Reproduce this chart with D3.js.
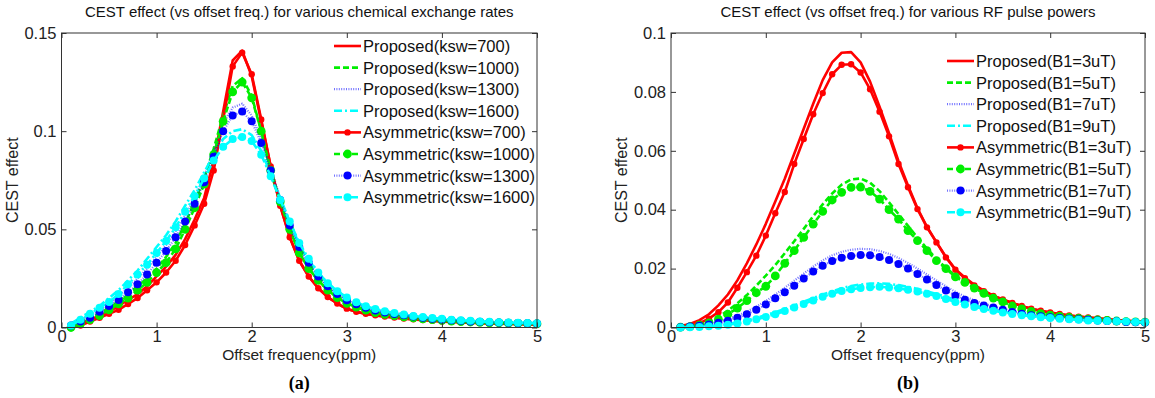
<!DOCTYPE html>
<html>
<head>
<meta charset="utf-8">
<script src="https://cdn.jsdelivr.net/npm/d3@7"></script>
<style>
  body { margin: 0; background: #fff; }
  svg { display: block; font-family: "Liberation Sans", Arial, sans-serif; }
  .axis text { font-size: 16.5px; fill: #222; }
  .axis line { stroke: #333; }
</style>
</head>
<body>
<svg id="chart" width="1155" height="398"></svg>
<script>
// offset frequency (ppm) sampled by both simulations
const offsets = [0.1,0.2,0.3,0.4,0.5,0.6,0.7,0.8,0.9,1.0,1.1,1.2,1.3,1.4,1.5,1.6,1.7,1.8,1.9,2.0,
                 2.1,2.2,2.3,2.4,2.5,2.6,2.7,2.8,2.9,3.0,3.1,3.2,3.3,3.4,3.5,3.6,3.7,3.8,3.9,4.0,
                 4.1,4.2,4.3,4.4,4.5,4.6,4.7,4.8,4.9,5.0];
const xTicks = [0, 1, 2, 3, 4, 5];

// (a) chemical exchange rates
const kswLabels = ["700", "1000", "1300", "1600"];
const kswTicks = [0, 0.05, 0.1, 0.15];
const kswP700  = [0.001,0.002,0.004,0.006,0.008,0.011,0.014,0.017,0.021,0.026,0.031,0.037,0.045,0.055,0.066,0.085,0.110,0.136,0.141,0.128,
                  0.105,0.082,0.062,0.046,0.034,0.026,0.020,0.0155,0.0122,0.0095,0.0080,0.0069,0.0061,0.0055,0.0050,0.0045,0.0041,0.0037,0.0034,0.0030,
                  0.0028,0.0026,0.0024,0.0022,0.0020,0.0019,0.0018,0.0017,0.0016,0.0015];
const kswP1000 = [0.001,0.003,0.005,0.007,0.010,0.013,0.017,0.021,0.025,0.030,0.036,0.043,0.053,0.064,0.076,0.091,0.108,0.123,0.127,0.118,
                  0.100,0.079,0.064,0.050,0.038,0.030,0.024,0.0190,0.0152,0.0122,0.0103,0.0087,0.0075,0.0066,0.0059,0.0053,0.0048,0.0043,0.0039,0.0035,
                  0.0032,0.0029,0.0027,0.0025,0.0023,0.0022,0.0021,0.0020,0.0019,0.0018];
const kswP1300 = [0.002,0.004,0.006,0.009,0.012,0.016,0.020,0.025,0.030,0.036,0.042,0.049,0.057,0.066,0.077,0.090,0.104,0.112,0.114,0.108,
                  0.096,0.081,0.066,0.052,0.040,0.032,0.026,0.0210,0.0170,0.0138,0.0117,0.0099,0.0086,0.0076,0.0068,0.0061,0.0055,0.0049,0.0044,0.0040,
                  0.0036,0.0033,0.0030,0.0028,0.0026,0.0024,0.0023,0.0022,0.0021,0.0020];
const kswP1600 = [0.002,0.005,0.008,0.011,0.015,0.019,0.024,0.029,0.035,0.041,0.047,0.054,0.062,0.070,0.079,0.088,0.096,0.100,0.101,0.098,
                  0.090,0.078,0.066,0.054,0.042,0.034,0.028,0.0225,0.0185,0.0153,0.0128,0.0108,0.0093,0.0082,0.0073,0.0065,0.0058,0.0052,0.0047,0.0043,
                  0.0039,0.0036,0.0033,0.0031,0.0029,0.0027,0.0025,0.0024,0.0023,0.0022];
const kswA700  = [0.000,0.001,0.003,0.005,0.007,0.009,0.012,0.015,0.019,0.023,0.028,0.034,0.042,0.052,0.063,0.080,0.106,0.133,0.140,0.129,
                  0.106,0.082,0.062,0.046,0.034,0.026,0.020,0.0155,0.0122,0.0096,0.0080,0.0070,0.0062,0.0056,0.0051,0.0046,0.0042,0.0038,0.0035,0.0031,
                  0.0029,0.0027,0.0025,0.0023,0.0021,0.0020,0.0019,0.0018,0.0017,0.0016];
const kswA1000 = [0.000,0.002,0.004,0.006,0.009,0.012,0.015,0.019,0.023,0.028,0.033,0.040,0.050,0.061,0.073,0.088,0.105,0.120,0.125,0.117,
                  0.100,0.080,0.064,0.050,0.038,0.030,0.024,0.0190,0.0152,0.0123,0.0104,0.0088,0.0076,0.0067,0.0060,0.0054,0.0049,0.0044,0.0040,0.0036,
                  0.0033,0.0030,0.0028,0.0026,0.0024,0.0023,0.0022,0.0021,0.0020,0.0019];
const kswA1300 = [0.001,0.003,0.005,0.008,0.011,0.014,0.018,0.022,0.027,0.033,0.039,0.046,0.054,0.063,0.074,0.087,0.100,0.108,0.110,0.105,
                  0.094,0.080,0.065,0.052,0.041,0.033,0.026,0.0210,0.0170,0.0139,0.0118,0.0100,0.0087,0.0077,0.0069,0.0062,0.0056,0.0050,0.0045,0.0041,
                  0.0037,0.0034,0.0031,0.0029,0.0027,0.0025,0.0024,0.0023,0.0022,0.0021];
const kswA1600 = [0.001,0.004,0.007,0.010,0.013,0.017,0.022,0.027,0.032,0.038,0.044,0.051,0.059,0.067,0.076,0.085,0.092,0.096,0.097,0.095,
                  0.088,0.077,0.065,0.054,0.043,0.035,0.028,0.0225,0.0185,0.0153,0.0128,0.0108,0.0094,0.0083,0.0074,0.0066,0.0059,0.0053,0.0048,0.0044,
                  0.0040,0.0037,0.0034,0.0031,0.0029,0.0027,0.0026,0.0024,0.0023,0.0022];

// (b) RF pulse powers
const b1Labels = ["3uT", "5uT", "7uT", "9uT"];
const b1Ticks = [0, 0.02, 0.04, 0.06, 0.08, 0.1];
const b1P3 = [0.0005,0.0012,0.0025,0.0045,0.0075,0.0112,0.0160,0.0218,0.0282,0.0352,0.0428,0.0505,0.0590,0.0675,0.0760,0.0840,0.0900,0.0933,0.0935,0.0900,
              0.0835,0.0750,0.0660,0.0565,0.0482,0.0405,0.0342,0.0290,0.0240,0.0198,0.0170,0.0145,0.0125,0.0108,0.0095,0.0083,0.0073,0.0064,0.0057,0.0051,
              0.0046,0.0041,0.0037,0.0034,0.0031,0.0028,0.0025,0.0023,0.0021,0.0019];
const b1P5 = [0.0002,0.0005,0.0011,0.0022,0.0037,0.0057,0.0082,0.0110,0.0142,0.0176,0.0212,0.0252,0.0293,0.0335,0.0378,0.0418,0.0455,0.0485,0.0503,0.0506,
              0.0492,0.0463,0.0425,0.0385,0.0345,0.0305,0.0268,0.0233,0.0203,0.0176,0.0154,0.0135,0.0117,0.0101,0.0088,0.0075,0.0065,0.0056,0.0049,0.0043,
              0.0039,0.0035,0.0031,0.0028,0.0026,0.0024,0.0022,0.0020,0.0019,0.0018];
const b1P7 = [0.0001,0.0004,0.0008,0.0013,0.0020,0.0029,0.0040,0.0054,0.0071,0.0090,0.0112,0.0135,0.0159,0.0183,0.0207,0.0228,0.0245,0.0257,0.0264,0.0267,
              0.0266,0.0260,0.0250,0.0236,0.0219,0.0200,0.0180,0.0160,0.0140,0.0121,0.0105,0.0092,0.0081,0.0072,0.0064,0.0056,0.0050,0.0045,0.0040,0.0036,
              0.0033,0.0031,0.0028,0.0026,0.0024,0.0022,0.0021,0.0019,0.0018,0.0017];
const b1P9 = [0.0000,0.0001,0.0003,0.0005,0.0008,0.0012,0.0018,0.0025,0.0033,0.0042,0.0052,0.0063,0.0075,0.0088,0.0100,0.0112,0.0123,0.0133,0.0141,0.0146,
              0.0149,0.0150,0.0148,0.0144,0.0138,0.0131,0.0123,0.0114,0.0104,0.0094,0.0084,0.0075,0.0067,0.0060,0.0054,0.0048,0.0044,0.0040,0.0036,0.0033,
              0.0031,0.0029,0.0027,0.0025,0.0023,0.0022,0.0021,0.0020,0.0019,0.0018];
const b1A3 = [0.0002,0.0006,0.0015,0.0030,0.0052,0.0085,0.0135,0.0188,0.0244,0.0312,0.0388,0.0460,0.0555,0.0640,0.0724,0.0796,0.0860,0.0892,0.0894,0.0866,
              0.0809,0.0733,0.0649,0.0555,0.0476,0.0402,0.0340,0.0289,0.0238,0.0196,0.0167,0.0143,0.0123,0.0107,0.0095,0.0083,0.0073,0.0064,0.0057,0.0051,
              0.0046,0.0041,0.0037,0.0034,0.0031,0.0028,0.0025,0.0023,0.0021,0.0019];
const b1A5 = [0.0001,0.0003,0.0008,0.0016,0.0028,0.0045,0.0066,0.0091,0.0118,0.0140,0.0175,0.0218,0.0261,0.0306,0.0351,0.0394,0.0433,0.0459,0.0476,0.0477,
              0.0462,0.0436,0.0400,0.0368,0.0329,0.0295,0.0261,0.0227,0.0200,0.0172,0.0153,0.0134,0.0116,0.0100,0.0087,0.0073,0.0063,0.0055,0.0047,0.0042,
              0.0038,0.0034,0.0031,0.0028,0.0026,0.0024,0.0022,0.0020,0.0019,0.0018];
const b1A7 = [0.0001,0.0003,0.0006,0.0010,0.0016,0.0023,0.0033,0.0045,0.0060,0.0078,0.0099,0.0120,0.0142,0.0166,0.0190,0.0210,0.0226,0.0237,0.0243,0.0246,
              0.0245,0.0239,0.0229,0.0216,0.0200,0.0182,0.0163,0.0144,0.0126,0.0108,0.0094,0.0083,0.0075,0.0068,0.0060,0.0053,0.0047,0.0042,0.0038,0.0035,
              0.0032,0.0030,0.0028,0.0026,0.0024,0.0022,0.0021,0.0019,0.0018,0.0017];
const b1A9 = [0.0000,0.0001,0.0002,0.0004,0.0006,0.0009,0.0014,0.0020,0.0028,0.0036,0.0045,0.0056,0.0068,0.0080,0.0092,0.0104,0.0115,0.0124,0.0130,0.0134,
              0.0137,0.0138,0.0136,0.0133,0.0128,0.0122,0.0115,0.0107,0.0097,0.0087,0.0078,0.0070,0.0063,0.0057,0.0051,0.0046,0.0042,0.0038,0.0035,0.0032,
              0.0030,0.0028,0.0026,0.0024,0.0023,0.0022,0.0021,0.0020,0.0019,0.0018];

// matlab-ish line styles, one per parameter level
const styles = [
    { color: "#ff0000", width: 2.6, dash: null,        r: 3.2 },
    { color: "#00ee00", width: 2.6, dash: "6,3",       r: 4.4 },
    { color: "#0000ff", width: 2.2, dash: "1,1.4",     r: 4.0, lineOpacity: 0.55 },
    { color: "#00ffff", width: 2.6, dash: "8,3,2,3",   r: 4.0 }
];

const svg = d3.select("#chart");
svg.append("rect").attr("width", 1155).attr("height", 398).attr("fill", "#fff");

function trimNum(d) {
    return d === 0 ? "0" : String(+d.toFixed(3));
}

function drawPanel(p) {
    const g = svg.append("g");
    const x = d3.scaleLinear().domain([0, 5]).range([p.left, p.right]);
    const y = d3.scaleLinear().domain([0, p.ymax]).range([p.bottom, p.top]);

    const plotG = g.append("g");
    const line = d3.line().x((d, i) => x(offsets[i])).y(d => y(d));

    // proposed curves first, asymmetric (with markers) on top
    p.proposed.forEach((vals, k) => {
        const s = styles[k];
        plotG.append("path")
            .attr("d", line(vals))
            .attr("fill", "none")
            .attr("stroke", s.color)
            .attr("stroke-width", s.width)
            .attr("stroke-opacity", s.lineOpacity || 1)
            .attr("stroke-dasharray", s.dash)
            .attr("stroke-linejoin", "round");
    });
    p.asym.forEach((vals, k) => {
        const s = styles[k];
        plotG.append("path")
            .attr("d", line(vals))
            .attr("fill", "none")
            .attr("stroke", s.color)
            .attr("stroke-width", s.width)
            .attr("stroke-opacity", s.lineOpacity || 1)
            .attr("stroke-dasharray", s.dash)
            .attr("stroke-linejoin", "round");
        plotG.append("g").selectAll("circle")
            .data(vals)
            .join("circle")
            .attr("cx", (d, i) => x(offsets[i]))
            .attr("cy", d => y(d))
            .attr("r", s.r)
            .attr("fill", s.color);
    });

    // box + inward ticks on all four sides
    g.append("rect")
        .attr("x", p.left).attr("y", p.top)
        .attr("width", p.right - p.left).attr("height", p.bottom - p.top)
        .attr("fill", "none").attr("stroke", "#333").attr("stroke-width", 1);

    const axB = g.append("g").attr("class", "axis").attr("transform", `translate(0,${p.bottom})`)
        .call(d3.axisBottom(x).tickValues(xTicks).tickSizeInner(-5).tickSizeOuter(0).tickPadding(3).tickFormat(d3.format("d")));
    const axT = g.append("g").attr("class", "axis").attr("transform", `translate(0,${p.top})`)
        .call(d3.axisTop(x).tickValues(xTicks).tickSizeInner(-5).tickSizeOuter(0).tickFormat(""));
    const axL = g.append("g").attr("class", "axis").attr("transform", `translate(${p.left},0)`)
        .call(d3.axisLeft(y).tickValues(p.yTicks).tickSizeInner(-5).tickSizeOuter(0).tickPadding(5).tickFormat(trimNum));
    const axR = g.append("g").attr("class", "axis").attr("transform", `translate(${p.right},0)`)
        .call(d3.axisRight(y).tickValues(p.yTicks).tickSizeInner(-5).tickSizeOuter(0).tickFormat(""));
    [axB, axT, axL, axR].forEach(a => a.select(".domain").remove());

    const cx = (p.left + p.right) / 2;
    g.append("text").attr("x", cx).attr("y", p.top - 16)
        .attr("text-anchor", "middle").attr("font-size", 15).attr("fill", "#111")
        .text(p.title);
    g.append("text").attr("x", cx).attr("y", p.bottom + 32)
        .attr("text-anchor", "middle").attr("font-size", 15.5).attr("fill", "#222")
        .text("Offset frequency(ppm)");
    g.append("text")
        .attr("transform", `translate(${p.left - 44},${(p.top + p.bottom) / 2}) rotate(-90)`)
        .attr("text-anchor", "middle").attr("font-size", 16).attr("fill", "#222")
        .text("CEST effect");
    g.append("text").attr("x", cx).attr("y", p.bottom + 61)
        .attr("text-anchor", "middle").attr("font-size", 18).attr("font-weight", "bold")
        .attr("font-family", "'Liberation Serif', 'Times New Roman', serif")
        .text(p.caption);

    // legend (no frame)
    const entries = [];
    p.labels.forEach((lab, k) => entries.push({ text: `Proposed(${p.param}=${lab})`, k, marker: false }));
    p.labels.forEach((lab, k) => entries.push({ text: `Asymmetric(${p.param}=${lab})`, k, marker: true }));
    const lg = g.append("g").attr("transform", `translate(${p.legendX},${p.legendY})`);
    const rows = lg.selectAll("g").data(entries).join("g")
        .attr("transform", (d, i) => `translate(0,${i * 21.6})`);
    rows.append("line")
        .attr("x1", 0).attr("x2", 27).attr("y1", 0).attr("y2", 0)
        .attr("stroke", d => styles[d.k].color)
        .attr("stroke-width", d => styles[d.k].width)
        .attr("stroke-opacity", d => styles[d.k].lineOpacity || 1)
        .attr("stroke-dasharray", d => styles[d.k].dash);
    rows.filter(d => d.marker).append("circle")
        .attr("cx", 13.5).attr("cy", 0).attr("r", d => styles[d.k].r)
        .attr("fill", d => styles[d.k].color);
    rows.append("text")
        .attr("x", 29).attr("y", 0).attr("dy", "0.36em")
        .attr("font-size", 16.5).attr("fill", "#111")
        .text(d => d.text);
}

drawPanel({
    left: 61.5, right: 537, top: 33, bottom: 327.5, ymax: 0.15, yTicks: kswTicks,
    title: "CEST effect (vs offset freq.) for various chemical exchange rates",
    caption: "(a)", param: "ksw", labels: kswLabels,
    proposed: [kswP700, kswP1000, kswP1300, kswP1600],
    asym: [kswA700, kswA1000, kswA1300, kswA1600],
    legendX: 334, legendY: 46
});

drawPanel({
    left: 671, right: 1145, top: 33, bottom: 327.5, ymax: 0.1, yTicks: b1Ticks,
    title: "CEST effect (vs offset freq.) for various RF pulse powers",
    caption: "(b)", param: "B1", labels: b1Labels,
    proposed: [b1P3, b1P5, b1P7, b1P9],
    asym: [b1A3, b1A5, b1A7, b1A9],
    legendX: 947, legendY: 61
});
</script>
</body>
</html>
